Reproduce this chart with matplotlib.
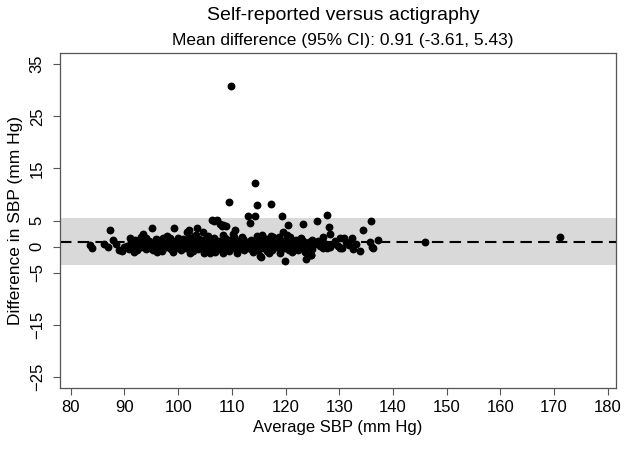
import matplotlib.pyplot as plt

plt.rcParams['font.family'] = ['Liberation Sans', 'DejaVu Sans']

# dense band of points around the mean difference
band_x = [90.5, 90.8, 91.2, 91.5, 91.8, 92.0, 92.3, 92.6, 92.9, 93.1, 93.4, 93.7, 94.0, 94.2, 94.5,
          94.8, 95.0, 95.3, 95.6, 95.9, 96.2, 96.4, 96.7, 97.0, 97.3, 97.5, 97.8, 98.1, 98.4, 98.6,
          98.9, 99.2, 99.5, 99.8, 100.0, 100.3, 100.6, 100.9, 101.1, 101.4, 101.7, 102.0, 102.3, 102.5,
          102.8, 103.1, 103.4, 103.7, 103.9, 104.2, 104.5, 104.8, 105.1, 105.3, 105.6, 105.9, 106.2,
          106.5, 106.7, 107.0, 107.3, 107.6, 107.9, 108.1, 108.4, 108.7, 109.0, 109.3, 109.5, 109.8,
          110.1, 110.4, 110.7, 110.9, 111.2, 111.5, 111.8, 112.1, 112.3, 112.6, 112.9, 113.2, 113.5,
          113.7, 114.0, 114.3, 114.6, 114.9, 115.1, 115.4, 115.7, 116.0, 116.3, 116.5, 116.8, 117.1,
          117.4, 117.7, 117.9, 118.2, 118.5, 118.8, 119.1, 119.3, 119.6, 119.9, 120.2, 120.5, 120.7,
          121.0, 121.3, 121.6, 121.9, 122.1, 122.4, 122.7, 123.0, 123.3, 123.5, 123.8, 124.1, 124.4,
          124.7, 125.0, 125.5, 126.0, 126.5, 127.2, 127.8, 128.5, 129.2, 129.8, 130.5, 131.2, 131.8,
          132.5, 133.2,
          95.5, 96.5, 97.5, 98.5, 99.5, 100.5, 101.5, 102.5, 103.5, 104.5, 105.5, 106.5, 107.5, 108.5,
          109.5, 110.5, 111.5, 112.5, 113.5, 114.5, 115.5, 116.5, 117.5, 118.5, 119.5, 120.5, 121.5,
          122.5, 123.5,
          91.0, 93.0, 95.8, 97.9, 99.9, 101.9, 103.3, 105.0, 106.9, 108.8, 110.2, 111.9, 113.9, 115.8,
          117.2, 118.9, 120.9, 122.9, 124.9, 96.0, 99.0, 102.9, 106.0, 111.0, 116.9, 121.2]
band_y = [0.2, -0.4, 0.9, -0.2, 0.5, 1.2, -0.6, 0.3, 0.8, -0.1, 1.5, 0.2, -0.5, 0.7, 1.1,
          -0.2, 0.4, -0.7, 0.9, 0.1, 1.3, -0.3, 0.6, -0.8, 0.2, 1.0, -0.1, 0.5, 1.6, -0.5,
          0.3, 0.9, -0.2, 1.2, 0.0, 0.6, -0.6, 1.4, 0.2, -0.3, 0.8, 1.7, -0.1, 0.5,
          -0.8, 1.0, 0.3, -0.4, 1.5, 0.1, 0.7, -0.6, 1.2, 0.0, 2.0, 0.4, -0.3,
          0.9, 1.6, -0.7, 0.2, 1.1, -0.1, 0.6, 2.3, -0.5, 0.3, 1.3, -0.9, 0.0,
          0.8, 1.8, -0.4, 0.4, 1.0, -0.2, 0.6, 1.5, -0.7, 0.2, 0.9, -0.3, 1.3,
          0.5, -0.1, 0.7, 2.1, -0.6, 0.3, 1.1, -0.2, 0.6, 1.4, -0.8, 0.1, 0.9,
          -0.4, 0.5, 1.2, -0.1, 0.7, 1.9, -0.5, 0.2, 1.0, -0.2, 0.6, 1.5, -0.7,
          0.3, 0.9, -0.3, 1.3, 0.1, -0.6, 0.8, 0.2, 1.1, -0.4, 0.5, -0.1, 0.9,
          0.3, -0.5, 0.6, 1.0, 0.1, 0.7, -0.3, 0.4, 1.0, 0.2, -0.2, 0.8, 0.3,
          -0.4, 0.5,
          0.5, 0.0, 0.4, -0.2, 0.6, 0.2, 0.9, -0.4, 0.6, -0.2, 0.7, 0.1, -0.4, 0.8,
          0.4, -0.1, 0.9, 0.5, -0.5, 0.3, 0.8, 0.4, -0.6, 0.2, 0.6, 0.1, 0.5,
          1.0, 0.2,
          1.6, 1.9, 1.4, 2.0, 1.7, 1.3, 2.2, 1.5, -1.0, 1.6, 2.4, 1.8, -1.1, 1.7,
          2.0, -1.2, 1.9, 1.4, 1.2, -1.0, -1.1, 2.1, -1.2, -1.3, -1.2, -1.0]

# scattered points away from the band
spread_x = [109.85, 114.4, 109.5, 114.7, 117.3, 113.0, 114.4, 113.4, 119.3, 127.7, 125.9, 123.3,
            120.5, 128.0, 135.9, 134.5, 106.6, 109.0, 110.5, 107.8, 108.4, 108.3, 115.3, 119.9,
            123.8, 124.8, 133.9, 136.1, 137.3, 135.7, 145.9, 171.2, 83.6, 83.9, 86.2, 87.4, 87.0,
            87.9, 88.4, 89.0, 89.5, 89.9, 91.7, 93.5, 95.1, 94.1, 99.2, 101.6, 102.1, 103.5, 106.3,
            107.2, 108.1, 97.2, 104.7, 102.2, 104.8, 117.7, 119.6, 120.2, 115.6, 115.4, 126.9, 128.3,
            122.9, 130.2, 130.8, 132.3, 123.6, 124.7, 136.3, 130.2, 127.0, 128.3]
spread_y = [30.8, 12.3, 8.6, 7.9, 8.2, 5.9, 5.9, 4.5, 5.9, 6.1, 4.9, 4.3,
            4.1, 3.8, 4.9, 3.2, 5.0, 4.0, 3.2, 4.3, 4.1, -1.3, -1.8, -2.8,
            -2.4, -1.6, -0.8, 0.0, 1.3, 0.8, 0.9, 1.8, 0.4, -0.3, 0.6, 3.2, 0.0,
            1.3, 0.6, -0.6, -0.8, 0.0, -1.0, 2.4, 3.6, 1.6, 3.5, 2.9, 3.2, 3.6, 5.1,
            5.1, 4.0, 1.6, 2.9, -1.3, -1.3, 1.9, 2.9, 2.2, 2.2, -1.9, 1.9, 2.5,
            1.6, 1.6, 1.6, 1.6, -1.0, -1.6, -0.3, -0.3, -0.3, 0.0]

mean_diff = 0.91
lower_ci = -3.61
upper_ci = 5.43

fig = plt.figure(figsize=(6.29, 4.49), dpi=100)
ax = fig.add_axes([0.0954, 0.1359, 0.8836, 0.7451])

ax.axhspan(lower_ci, upper_ci, color='#d9d9d9', zorder=0, lw=0)
ax.axhline(mean_diff, color='black', lw=1.5, ls=(0, (5.5, 3)), zorder=1)
ax.scatter(band_x + spread_x, band_y + spread_y, s=32, color='black', zorder=2, lw=0)

ax.set_xlim(78.0, 181.5)
ax.set_ylim(-27.1, 37.05)
ax.set_xticks(range(80, 181, 10))
ax.set_yticks([-25, -15, -5, 0, 5, 15, 25, 35])
ax.tick_params(direction='out', length=5, width=0.8, color='#555555', labelsize=12)
ax.tick_params(axis='y', pad=6)
plt.setp(ax.get_yticklabels(), rotation=90, va='center')
for s in ax.spines.values():
    s.set_color('#555555')
    s.set_linewidth(0.9)

ax.set_xlabel('Average SBP (mm Hg)', fontsize=12)
ax.set_ylabel('Difference in SBP (mm Hg)', fontsize=12.5, labelpad=5)
fig.text(0.545, 0.965, 'Self-reported versus actigraphy', ha='center', va='center', fontsize=14)
fig.text(0.545, 0.91, 'Mean difference (95% CI): 0.91 (-3.61, 5.43)', ha='center', va='center', fontsize=12.5)

fig.savefig('out.png', dpi=100)
